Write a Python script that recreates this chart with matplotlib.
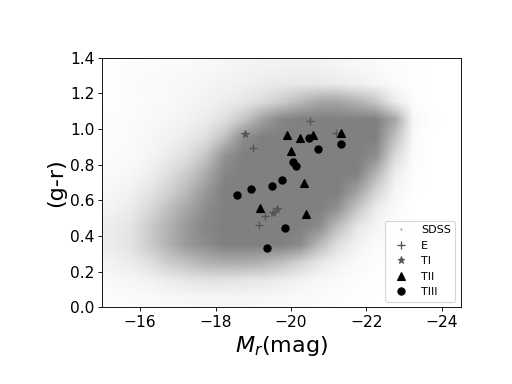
from matplotlib import pyplot as plt
from matplotlib.colors import LinearSegmentedColormap
from matplotlib.lines import Line2D
import numpy as np

# SDSS cloud, read as gray coverage on a grid (0.5 mag x 0.1 colour cells)
# columns: Mr = -15.25 ... -24.25, rows: (g-r) = 0.05 ... 1.35
sdss_x_edges = [-15.0, -24.5]
sdss_y_edges = [0.0, 1.4]
sdss_density = [
    [0.02, 0.03, 0.04, 0.05, 0.06, 0.07, 0.07, 0.07, 0.06, 0.05, 0.04, 0.03, 0.02, 0.01, 0, 0, 0, 0, 0],
    [0.05, 0.07, 0.10, 0.15, 0.20, 0.22, 0.22, 0.20, 0.18, 0.15, 0.10, 0.06, 0.04, 0.02, 0.01, 0, 0, 0, 0],
    [0.10, 0.15, 0.25, 0.40, 0.50, 0.60, 0.65, 0.65, 0.60, 0.50, 0.35, 0.20, 0.10, 0.05, 0.02, 0, 0, 0, 0],
    [0.15, 0.22, 0.40, 0.60, 0.80, 0.90, 1, 1, 1, 1, 0.90, 0.55, 0.25, 0.10, 0.04, 0.01, 0, 0, 0],
    [0.15, 0.20, 0.40, 0.60, 0.80, 0.95, 1, 1, 1, 1, 1, 0.90, 0.50, 0.20, 0.08, 0.02, 0, 0, 0],
    [0.10, 0.15, 0.30, 0.50, 0.70, 0.90, 1, 1, 1, 1, 1, 1, 0.85, 0.45, 0.15, 0.04, 0, 0, 0],
    [0.06, 0.10, 0.20, 0.35, 0.55, 0.80, 1, 1, 1, 1, 1, 1, 1, 0.75, 0.35, 0.08, 0.01, 0, 0],
    [0.04, 0.06, 0.12, 0.25, 0.40, 0.65, 0.95, 1, 1, 1, 1, 1, 1, 1, 0.60, 0.15, 0.02, 0, 0],
    [0.03, 0.04, 0.08, 0.15, 0.25, 0.45, 0.85, 1, 1, 1, 1, 1, 1, 1, 0.90, 0.30, 0.03, 0, 0],
    [0.02, 0.03, 0.06, 0.10, 0.15, 0.25, 0.50, 0.90, 1, 1, 1, 1, 1, 1, 1, 0.50, 0.04, 0, 0],
    [0.02, 0.03, 0.05, 0.07, 0.10, 0.15, 0.25, 0.45, 0.75, 0.95, 1, 1, 1, 1, 1, 0.70, 0.06, 0.01, 0],
    [0.01, 0.02, 0.04, 0.05, 0.07, 0.10, 0.14, 0.20, 0.28, 0.40, 0.55, 0.70, 0.70, 0.60, 0.45, 0.15, 0.02, 0, 0],
    [0.01, 0.03, 0.04, 0.05, 0.06, 0.08, 0.10, 0.12, 0.15, 0.17, 0.18, 0.18, 0.16, 0.12, 0.08, 0.04, 0.01, 0, 0],
    [0.01, 0.02, 0.03, 0.03, 0.04, 0.05, 0.07, 0.08, 0.10, 0.10, 0.10, 0.10, 0.08, 0.06, 0.04, 0.02, 0.01, 0, 0],
]

# galaxy samples
e_mr = [-20.50, -18.99, -21.19, -19.31, -19.15]
e_gr = [1.045, 0.894, 0.978, 0.511, 0.459]

t1_mr = [-18.77, -19.51, -19.63]
t1_gr = [0.974, 0.526, 0.553]

t2_mr = [-19.89, -20.24, -20.59, -21.33, -20.01, -20.35, -19.19, -20.39]
t2_gr = [0.965, 0.948, 0.965, 0.978, 0.874, 0.696, 0.556, 0.521]

t3_mr = [-20.48, -20.72, -21.33, -20.06, -20.14, -19.77, -19.50, -18.95, -18.58, -19.85, -19.35]
t3_gr = [0.948, 0.890, 0.913, 0.814, 0.791, 0.711, 0.681, 0.661, 0.629, 0.442, 0.330]

fig = plt.figure(figsize=(6.4, 4.8), dpi=80)
ax = fig.add_axes([0.2, 0.2, 0.7, 0.65])

gray_map = LinearSegmentedColormap.from_list('sdss', ['white', '#808080'])
ax.imshow(np.array(sdss_density), origin='lower', cmap=gray_map, vmin=0, vmax=1,
          extent=(sdss_x_edges[0], sdss_x_edges[1], sdss_y_edges[0], sdss_y_edges[1]),
          aspect='auto', interpolation='bilinear', zorder=0)

ax.plot(e_mr, e_gr, '+', color='#555555', ms=7, mew=1.2, zorder=3)
ax.plot(t1_mr, t1_gr, '*', color='#555555', ms=7, zorder=3)
ax.plot(t2_mr, t2_gr, '^', color='black', ms=6.5, zorder=3)
ax.plot(t3_mr, t3_gr, 'o', color='black', ms=6.5, zorder=3)

handles = [Line2D([], [], ls='', marker='.', ms=2, color='#aaaaaa'),
           Line2D([], [], ls='', marker='+', ms=6.5, mew=1.2, color='#555555'),
           Line2D([], [], ls='', marker='*', ms=6.5, color='#555555'),
           Line2D([], [], ls='', marker='^', ms=6.5, color='black'),
           Line2D([], [], ls='', marker='o', ms=6.5, color='black')]
ax.legend(handles, ['SDSS', 'E', 'TI', 'TII', 'TIII'], loc='lower right', fontsize=10)

ax.set_xlim(-15, -24.5)
ax.set_ylim(0, 1.4)
ax.set_xticks([-16, -18, -20, -22, -24])
ax.set_yticks([0.0, 0.2, 0.4, 0.6, 0.8, 1.0, 1.2, 1.4])
ax.tick_params(labelsize=14)
ax.set_xlabel(r'$M_r$(mag)', fontsize=20)
ax.set_ylabel('(g-r)', fontsize=20)

fig.savefig('out.png', dpi=80)
